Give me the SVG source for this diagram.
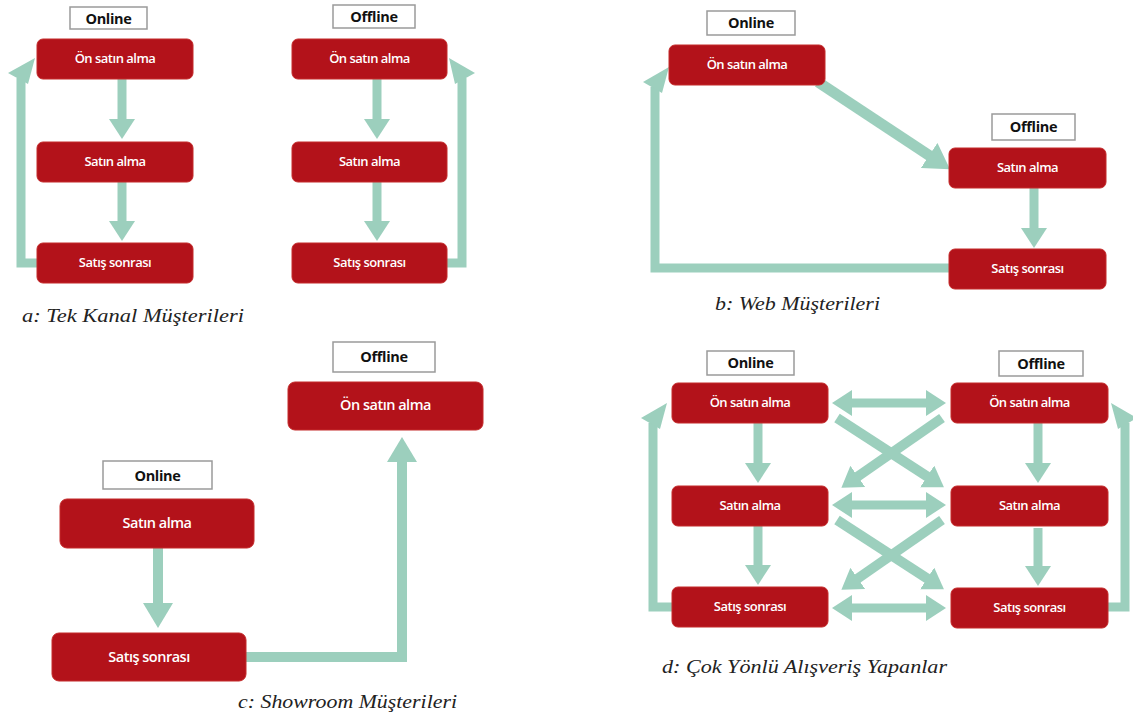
<svg xmlns="http://www.w3.org/2000/svg" width="1133" height="719" viewBox="0 0 1133 719">
<style>
.box{fill:#b3121a;stroke:#c42a2a;stroke-width:1}
.bt{fill:#fff;font-family:"Open Sans","DejaVu Sans",sans-serif;font-weight:600;font-size:13px;text-anchor:middle;letter-spacing:-0.5px}
.bt2{fill:#fff;font-family:"Open Sans","DejaVu Sans",sans-serif;font-weight:600;font-size:14.5px;text-anchor:middle;letter-spacing:-0.5px}
.lab{fill:#fff;stroke:#9a9a9a;stroke-width:1.5}
.lt{fill:#111;font-family:"Open Sans","DejaVu Sans",sans-serif;font-weight:bold;font-size:14.5px;text-anchor:middle;letter-spacing:-0.3px}
.cap{fill:#222;font-family:"Liberation Serif",serif;font-style:italic;font-size:19px}
.ar{fill:none;stroke:#9ccfbd;stroke-width:9}
.hd{fill:#9ccfbd}
</style>
<defs>
<marker id="ah" viewBox="0 0 20 26" markerWidth="20" markerHeight="26" markerUnits="userSpaceOnUse" refX="1" refY="13" orient="auto-start-reverse"><path d="M0,0 L20,13 L0,26 z" fill="#9ccfbd"/></marker>
<marker id="ahb" viewBox="0 0 25 30" markerWidth="25" markerHeight="30" markerUnits="userSpaceOnUse" refX="1" refY="15" orient="auto"><path d="M0,0 L25,15 L0,30 z" fill="#9ccfbd"/></marker>
</defs>

<g id="connectors">
<!-- panel a online -->
<line class="ar" x1="122" y1="79" x2="122" y2="120" marker-end="url(#ah)"/>
<line class="ar" x1="122" y1="182" x2="122" y2="222" marker-end="url(#ah)"/>
<path class="ar" d="M38,263 H21 V78"/>
<polygon class="hd" points="8,73 35,58 28,84"/>
<!-- panel a offline -->
<line class="ar" x1="377" y1="79" x2="377" y2="120" marker-end="url(#ah)"/>
<line class="ar" x1="377" y1="182" x2="377" y2="222" marker-end="url(#ah)"/>
<path class="ar" d="M446,263 H462 V78"/>
<polygon class="hd" points="475,73 449,58 455,84"/>
<!-- panel b -->
<line class="ar" style="stroke-width:11" x1="818" y1="82" x2="930" y2="156" marker-end="url(#ahb)"/>
<line class="ar" x1="1034" y1="188" x2="1034" y2="229" marker-end="url(#ah)"/>
<path class="ar" d="M950,268 H655 V87"/>
<polygon class="hd" points="643,82 669,67 662,93"/>
<!-- panel c -->
<line class="ar" style="stroke-width:10" x1="158" y1="548" x2="158" y2="604" marker-end="url(#ahb)"/>
<path class="ar" style="stroke-width:10" d="M246,657 H402 V461" marker-end="url(#ahb)"/>
<!-- panel d -->
<line class="ar" x1="851" y1="403" x2="927" y2="403" marker-start="url(#ah)" marker-end="url(#ah)"/>
<line class="ar" x1="851" y1="505" x2="927" y2="505" marker-start="url(#ah)" marker-end="url(#ah)"/>
<line class="ar" x1="851" y1="608" x2="927" y2="608" marker-start="url(#ah)" marker-end="url(#ah)"/>
<line class="ar" style="stroke-width:10" x1="837" y1="418" x2="928" y2="477" marker-end="url(#ah)"/>
<line class="ar" style="stroke-width:10" x1="942" y1="418" x2="857" y2="477" marker-end="url(#ah)"/>
<line class="ar" style="stroke-width:10" x1="837" y1="520" x2="928" y2="579" marker-end="url(#ah)"/>
<line class="ar" style="stroke-width:10" x1="942" y1="520" x2="857" y2="579" marker-end="url(#ah)"/>
<line class="ar" x1="758" y1="423" x2="758" y2="464" marker-end="url(#ah)"/>
<line class="ar" x1="758" y1="526" x2="758" y2="566" marker-end="url(#ah)"/>
<line class="ar" x1="1038" y1="423" x2="1038" y2="464" marker-end="url(#ah)"/>
<line class="ar" x1="1038" y1="528" x2="1038" y2="567" marker-end="url(#ah)"/>
<path class="ar" d="M673,607 H653 V423"/>
<polygon class="hd" points="641,418 667,403 660,429"/>
<path class="ar" d="M1107,607 H1125 V423"/>
<polygon class="hd" points="1137,418 1111,403 1118,429"/>
</g>

<!-- panel a: online -->
<g id="a-online-label"><rect class="lab" x="70" y="7" width="77" height="22"/><text class="lt" x="108.5" y="23.5">Online</text></g>
<g id="a-on-pre"><rect class="box" x="37" y="39" width="156" height="40" rx="6"/><text class="bt" x="115" y="63">Ön satın alma</text></g>
<g id="a-on-buy"><rect class="box" x="37" y="142" width="156" height="40" rx="6"/><text class="bt" x="115" y="166">Satın alma</text></g>
<g id="a-on-after"><rect class="box" x="37" y="243" width="156" height="40" rx="6"/><text class="bt" x="115" y="267">Satış sonrası</text></g>
<!-- panel a: offline -->
<g id="a-offline-label"><rect class="lab" x="333" y="5" width="82" height="23"/><text class="lt" x="374" y="21.5">Offline</text></g>
<g id="a-off-pre"><rect class="box" x="292" y="39" width="155" height="40" rx="6"/><text class="bt" x="369.5" y="63">Ön satın alma</text></g>
<g id="a-off-buy"><rect class="box" x="292" y="142" width="155" height="40" rx="6"/><text class="bt" x="369.5" y="166">Satın alma</text></g>
<g id="a-off-after"><rect class="box" x="292" y="243" width="155" height="40" rx="6"/><text class="bt" x="369.5" y="267">Satış sonrası</text></g>
<text class="cap" x="22" y="322" textLength="222" lengthAdjust="spacingAndGlyphs">a: Tek Kanal Müşterileri</text>

<!-- panel b -->
<g id="b-online-label"><rect class="lab" x="707" y="11" width="88" height="24"/><text class="lt" x="751" y="28">Online</text></g>
<g id="b-pre"><rect class="box" x="669" y="45" width="156" height="40" rx="6"/><text class="bt" x="747" y="69">Ön satın alma</text></g>
<g id="b-offline-label"><rect class="lab" x="992" y="114" width="83" height="26"/><text class="lt" x="1033.5" y="132">Offline</text></g>
<g id="b-buy"><rect class="box" x="949" y="148" width="157" height="40" rx="6"/><text class="bt" x="1027.5" y="172">Satın alma</text></g>
<g id="b-after"><rect class="box" x="949" y="249" width="157" height="40" rx="6"/><text class="bt" x="1027.5" y="273">Satış sonrası</text></g>
<text class="cap" x="715" y="310" textLength="165" lengthAdjust="spacingAndGlyphs">b: Web Müşterileri</text>

<!-- panel c -->
<g id="c-offline-label"><rect class="lab" x="333" y="342" width="102" height="30"/><text class="lt" x="384" y="362">Offline</text></g>
<g id="c-pre"><rect class="box" x="288" y="382" width="195" height="48" rx="7"/><text class="bt2" x="385.5" y="410">Ön satın alma</text></g>
<g id="c-online-label"><rect class="lab" x="103" y="461" width="109" height="28"/><text class="lt" x="157.5" y="481">Online</text></g>
<g id="c-buy"><rect class="box" x="60" y="499" width="194" height="49" rx="7"/><text class="bt2" x="157" y="528">Satın alma</text></g>
<g id="c-after"><rect class="box" x="52" y="633" width="194" height="48" rx="7"/><text class="bt2" x="149" y="662">Satış sonrası</text></g>
<text class="cap" x="238" y="708" textLength="219" lengthAdjust="spacingAndGlyphs">c: Showroom Müşterileri</text>

<!-- panel d -->
<g id="d-online-label"><rect class="lab" x="707" y="351" width="87" height="24"/><text class="lt" x="750.5" y="368">Online</text></g>
<g id="d-offline-label"><rect class="lab" x="999" y="351" width="84" height="25"/><text class="lt" x="1041" y="368.5">Offline</text></g>
<g id="d-on-pre"><rect class="box" x="672" y="383" width="156" height="40" rx="6"/><text class="bt" x="750" y="407">Ön satın alma</text></g>
<g id="d-on-buy"><rect class="box" x="672" y="486" width="156" height="40" rx="6"/><text class="bt" x="750" y="510">Satın alma</text></g>
<g id="d-on-after"><rect class="box" x="672" y="587" width="156" height="40" rx="6"/><text class="bt" x="750" y="611">Satış sonrası</text></g>
<g id="d-off-pre"><rect class="box" x="951" y="383" width="157" height="40" rx="6"/><text class="bt" x="1029.5" y="407">Ön satın alma</text></g>
<g id="d-off-buy"><rect class="box" x="951" y="486" width="157" height="40" rx="6"/><text class="bt" x="1029.5" y="510">Satın alma</text></g>
<g id="d-off-after"><rect class="box" x="951" y="588" width="157" height="40" rx="6"/><text class="bt" x="1029.5" y="612">Satış sonrası</text></g>
<text class="cap" x="662" y="673" textLength="285" lengthAdjust="spacingAndGlyphs">d: Çok Yönlü Alışveriş Yapanlar</text>
</svg>
